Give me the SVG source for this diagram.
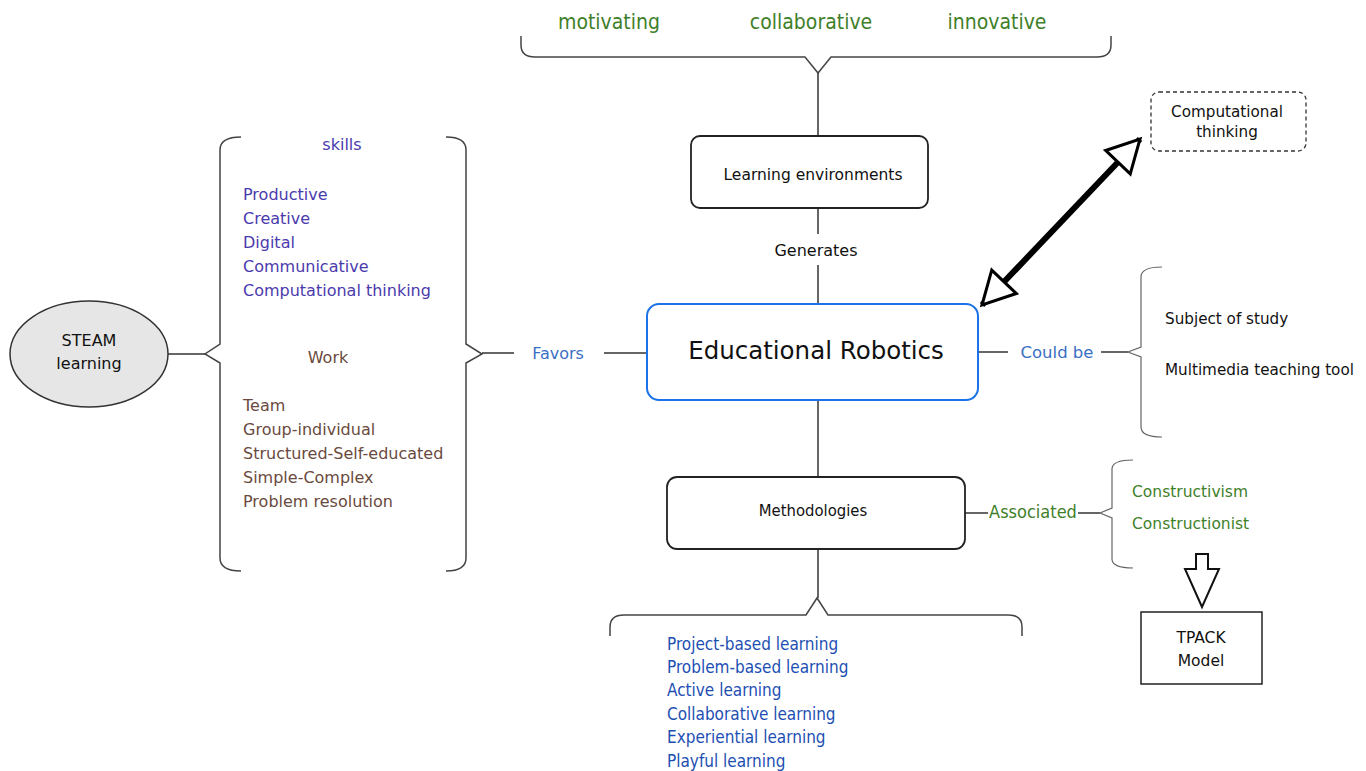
<svg xmlns="http://www.w3.org/2000/svg" width="1366" height="771" viewBox="0 0 1366 771">
<style>
text{font-family:"DejaVu Sans",Verdana,sans-serif;}
.c{text-anchor:middle;}
.cond{font-family:"DejaVu Sans Condensed","DejaVu Sans",sans-serif;}
.box{fill:#fff;stroke:#222;stroke-width:1.8;}
.ln{fill:none;stroke:#333;stroke-width:1.5;}
.br{fill:none;stroke:#444;stroke-width:1.5;}
.brt{fill:none;stroke:#666;stroke-width:1.2;}
.green{fill:#3f7f2a;}
.purple{fill:#4b3aad;}
.brown{fill:#6a4a3e;}
.blue{fill:#1d4fb3;}
.lblue{fill:#3a6fc4;}
.blk{fill:#111;}
</style>
<defs>
<marker id="hollow" markerUnits="userSpaceOnUse" markerWidth="44" markerHeight="44" viewBox="-4 -22 40 44" refX="32" refY="0" orient="auto-start-reverse">
<path d="M0,-17 L32,0 L0,17 Z" fill="#fff" stroke="#000" stroke-width="3" stroke-linejoin="miter"/>
</marker>
</defs>
<rect width="1366" height="771" fill="#fff"/>

<g id="connectors">
<path class="br" d="M521,36 L521,45 Q521,57 535,57 L805,57 L818,73 L831,57 L1097,57 Q1111,57 1111,45 L1111,36"/>
<line class="ln" x1="818" y1="73" x2="818" y2="136"/>
<line class="ln" x1="818" y1="208" x2="818" y2="234"/>
<line class="ln" x1="818" y1="265" x2="818" y2="304"/>
<line class="ln" x1="818" y1="400" x2="818" y2="477"/>
<line class="ln" x1="818" y1="549" x2="818" y2="598"/>
<path class="br" d="M610,636 L610,627 Q610,615 624,615 L806,615 L817,598 L828,615 L1008,615 Q1022,615 1022,627 L1022,636"/>
<line class="ln" x1="168" y1="354" x2="205" y2="354"/>
<path class="br" d="M241,137 Q220,137 220,150 L220,344 L205,354 L220,363 L220,558 Q220,571 241,571"/>
<path class="br" d="M446,137 Q466,137 466,150 L466,344 L482,354 L466,363 L466,558 Q466,571 446,571"/>
<line class="ln" x1="482" y1="353" x2="514" y2="353"/>
<line class="ln" x1="604" y1="353" x2="647" y2="353"/>
<line class="ln" x1="978" y1="352" x2="1008" y2="352"/>
<line class="ln" x1="1101" y1="352" x2="1128" y2="352"/>
<path class="brt" d="M1162,267 Q1141,267 1141,277 L1141,347 L1128,352 L1141,357 L1141,427 Q1141,437 1162,437"/>
<line class="ln" x1="965" y1="513" x2="988" y2="513"/>
<line class="ln" x1="1078" y1="513" x2="1100" y2="513"/>
<path class="brt" d="M1133,460 Q1112,460 1112,469 L1112,508 L1100,513 L1112,518 L1112,559 Q1112,568 1133,568"/>
<line x1="982" y1="305" x2="1140" y2="139" stroke="#000" stroke-width="6" marker-start="url(#hollow)" marker-end="url(#hollow)"/>
<polygon points="1196,554 1208,554 1208,569 1219,569 1202,607 1185,569 1196,569" fill="#fff" stroke="#111" stroke-width="2"/>
</g>

<g id="top-qualities">
<text class="c cond green" x="609" y="29" font-size="21">motivating</text>
<text class="c cond green" x="811" y="29" font-size="21">collaborative</text>
<text class="c cond green" x="997" y="29" font-size="21">innovative</text>
</g>

<g id="learning-environments">
<rect class="box" x="691" y="136" width="237" height="72" rx="9"/>
<text class="c blk" x="813" y="180" font-size="15.5">Learning environments</text>
</g>

<g id="generates-label">
<text class="c blk" x="816" y="256" font-size="16">Generates</text>
</g>

<g id="educational-robotics">
<rect x="647" y="304" width="331" height="96" rx="12" fill="#fff" stroke="#1a73e8" stroke-width="2"/>
<text class="c blk" x="816" y="359" font-size="24.5">Educational Robotics</text>
</g>

<g id="methodologies">
<rect class="box" x="667" y="477" width="298" height="72" rx="10"/>
<text class="c cond blk" x="813" y="516" font-size="16.5">Methodologies</text>
</g>

<g id="methodology-list">
<text class="cond blue" x="667" y="650" font-size="17">Project-based learning</text>
<text class="cond blue" x="667" y="673" font-size="17">Problem-based learning</text>
<text class="cond blue" x="667" y="696" font-size="17">Active learning</text>
<text class="cond blue" x="667" y="720" font-size="17">Collaborative learning</text>
<text class="cond blue" x="667" y="743" font-size="17">Experiential learning</text>
<text class="cond blue" x="667" y="767" font-size="17">Playful learning</text>
</g>

<g id="associated-label">
<text class="c cond green" x="1033" y="518" font-size="18">Associated</text>
</g>

<g id="theories">
<text class="green" x="1132" y="497" font-size="15.5">Constructivism</text>
<text class="green" x="1132" y="529" font-size="15.5">Constructionist</text>
</g>

<g id="tpack">
<rect x="1141" y="612" width="121" height="72" fill="#fff" stroke="#222" stroke-width="1.5"/>
<text class="c blk" x="1201" y="643" font-size="15.5">TPACK</text>
<text class="c blk" x="1201" y="666" font-size="15.5">Model</text>
</g>

<g id="could-be-label">
<text class="c lblue" x="1057" y="358" font-size="16.5">Could be</text>
</g>

<g id="roles">
<text class="blk" x="1165" y="324" font-size="15.2">Subject of study</text>
<text class="blk" x="1165" y="375" font-size="15.2">Multimedia teaching tool</text>
</g>

<g id="computational-thinking">
<rect x="1151" y="92" width="155" height="59" rx="8" fill="#fff" stroke="#333" stroke-width="1.3" stroke-dasharray="4,3"/>
<text class="c blk" x="1227" y="117" font-size="15.2">Computational</text>
<text class="c blk" x="1227" y="137" font-size="15.2">thinking</text>
</g>

<g id="steam-learning">
<ellipse cx="89" cy="354" rx="79" ry="53" fill="#e6e6e6" stroke="#333" stroke-width="1.5"/>
<text class="c blk" x="89" y="346" font-size="16">STEAM</text>
<text class="c blk" x="89" y="369" font-size="16">learning</text>
</g>

<g id="favors-label">
<text class="c lblue" x="558" y="359" font-size="16">Favors</text>
</g>

<g id="skills">
<text class="c purple" x="342" y="150" font-size="16">skills</text>
<text class="purple" x="243" y="200" font-size="16">Productive</text>
<text class="purple" x="243" y="224" font-size="16">Creative</text>
<text class="purple" x="243" y="248" font-size="16">Digital</text>
<text class="purple" x="243" y="272" font-size="16">Communicative</text>
<text class="purple" x="243" y="296" font-size="16">Computational thinking</text>
</g>

<g id="work">
<text class="c brown" x="328" y="363" font-size="16">Work</text>
<text class="brown" x="243" y="411" font-size="16">Team</text>
<text class="brown" x="243" y="435" font-size="16">Group-individual</text>
<text class="brown" x="243" y="459" font-size="16">Structured-Self-educated</text>
<text class="brown" x="243" y="483" font-size="16">Simple-Complex</text>
<text class="brown" x="243" y="507" font-size="16">Problem resolution</text>
</g>
</svg>
